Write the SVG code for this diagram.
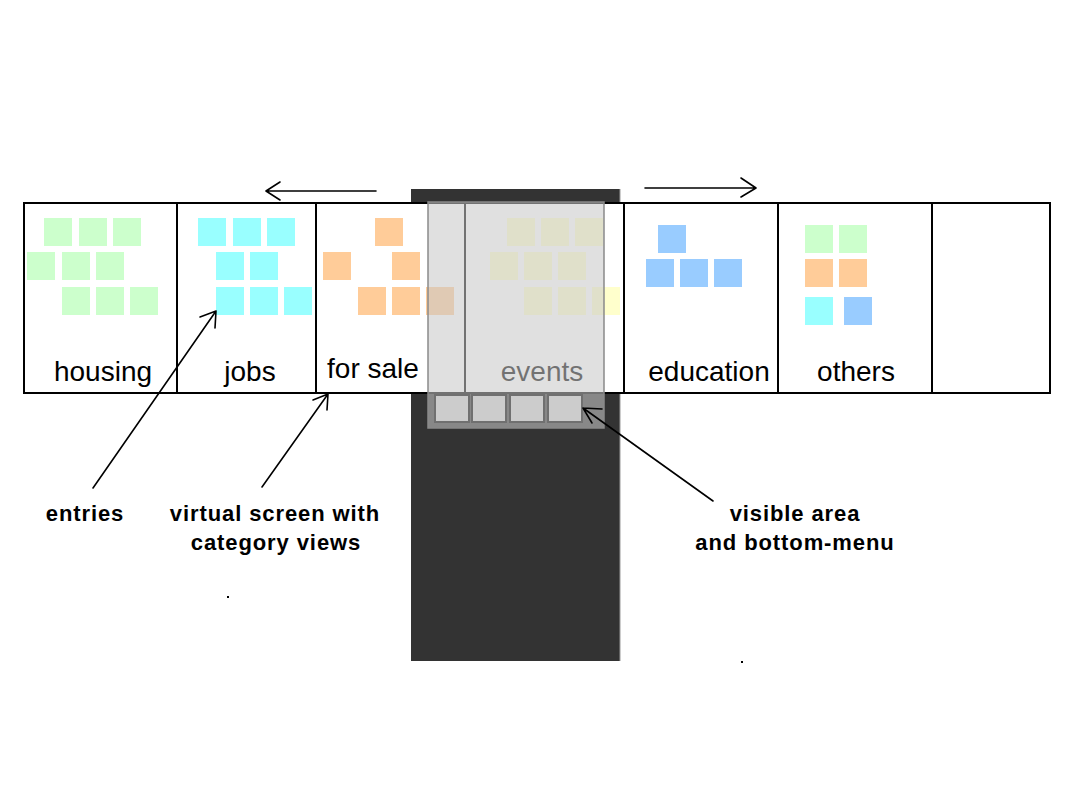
<svg xmlns="http://www.w3.org/2000/svg" width="1072" height="806" viewBox="0 0 1072 806">
  <style>
    .cat { font-family: "Liberation Sans", Arial, sans-serif; font-size: 28px; fill: #000; text-anchor: middle; }
    .note { font-family: "Liberation Sans", Arial, sans-serif; font-size: 22px; font-weight: bold; fill: #000; text-anchor: middle; letter-spacing: 0.9px; }
    .div { stroke: #000; stroke-width: 2; fill: none; }
    .g { fill: #ccffcc; }
    .c { fill: #99ffff; }
    .o { fill: #ffcc99; }
    .y { fill: #ffffcc; }
    .b { fill: #99ccff; }
    .conn { stroke: #000; stroke-width: 1.6; fill: none; stroke-linecap: round; stroke-linejoin: round; }
    .btn { fill: #cccccc; stroke: #707070; stroke-width: 2; }
  </style>
  <defs>
    <rect id="sq" width="28" height="28"/>
  </defs>
  <rect width="1072" height="806" fill="#ffffff"/>

  <g id="phone">
    <rect x="411" y="189" width="209" height="472" fill="#333333"/>
    <line x1="620" y1="189" x2="620" y2="661" stroke="#9a9a9a" stroke-width="1"/>
  </g>

  <g id="virtual-screen">
    <rect x="24" y="203" width="1026" height="190" fill="#ffffff" stroke="#000" stroke-width="2"/>
    <line class="div" x1="177" y1="203" x2="177" y2="393"/>
    <line class="div" x1="316" y1="203" x2="316" y2="393"/>
    <line class="div" x1="465" y1="203" x2="465" y2="393"/>
    <line class="div" x1="624" y1="203" x2="624" y2="393"/>
    <line class="div" x1="778" y1="203" x2="778" y2="393"/>
    <line class="div" x1="932" y1="203" x2="932" y2="393"/>
  </g>

  <g id="housing">
    <use href="#sq" class="g" x="44" y="218"/><use href="#sq" class="g" x="79" y="218"/><use href="#sq" class="g" x="113" y="218"/>
    <use href="#sq" class="g" x="27" y="252"/><use href="#sq" class="g" x="62" y="252"/><use href="#sq" class="g" x="96" y="252"/>
    <use href="#sq" class="g" x="62" y="287"/><use href="#sq" class="g" x="96" y="287"/><use href="#sq" class="g" x="130" y="287"/>
    <text class="cat" x="103" y="381">housing</text>
  </g>

  <g id="jobs">
    <use href="#sq" class="c" x="198" y="218"/><use href="#sq" class="c" x="233" y="218"/><use href="#sq" class="c" x="267" y="218"/>
    <use href="#sq" class="c" x="216" y="252"/><use href="#sq" class="c" x="250" y="252"/>
    <use href="#sq" class="c" x="216" y="287"/><use href="#sq" class="c" x="250" y="287"/><use href="#sq" class="c" x="284" y="287"/>
    <text class="cat" x="250" y="381">jobs</text>
  </g>

  <g id="for-sale">
    <use href="#sq" class="o" x="375" y="218"/>
    <use href="#sq" class="o" x="323" y="252"/><use href="#sq" class="o" x="392" y="252"/>
    <use href="#sq" class="o" x="358" y="287"/><use href="#sq" class="o" x="392" y="287"/><use href="#sq" class="o" x="426" y="287"/>
    <text class="cat" x="373" y="378">for sale</text>
  </g>

  <g id="events">
    <use href="#sq" class="y" x="507" y="218"/><use href="#sq" class="y" x="541" y="218"/><use href="#sq" class="y" x="575" y="218"/>
    <use href="#sq" class="y" x="490" y="252"/><use href="#sq" class="y" x="524" y="252"/><use href="#sq" class="y" x="558" y="252"/>
    <use href="#sq" class="y" x="524" y="287"/><use href="#sq" class="y" x="558" y="287"/><use href="#sq" class="y" x="592" y="287"/>
    <text class="cat" x="542" y="381">events</text>
  </g>

  <g id="education">
    <use href="#sq" class="b" x="658" y="225"/>
    <use href="#sq" class="b" x="646" y="259"/><use href="#sq" class="b" x="680" y="259"/><use href="#sq" class="b" x="714" y="259"/>
    <text class="cat" x="709" y="381">education</text>
  </g>

  <g id="others">
    <use href="#sq" class="g" x="805" y="225"/><use href="#sq" class="g" x="839" y="225"/>
    <use href="#sq" class="o" x="805" y="259"/><use href="#sq" class="o" x="839" y="259"/>
    <use href="#sq" class="c" x="805" y="297"/><use href="#sq" class="b" x="844" y="297"/>
    <text class="cat" x="856" y="381">others</text>
  </g>

  <g id="empty-view"></g>

  <g id="visible-area">
    <rect x="428" y="202" width="176" height="226" fill="#c8c8c8" fill-opacity="0.57" stroke="#8a8a8a" stroke-width="1.5"/>
  </g>

  <g id="bottom-menu">
    <rect class="btn" x="435" y="395" width="34" height="27"/>
    <rect class="btn" x="472" y="395" width="34" height="27"/>
    <rect class="btn" x="510" y="395" width="34" height="27"/>
    <rect class="btn" x="548" y="395" width="34" height="27"/>
  </g>

  <g id="connectors">
    <path class="conn" d="M376,191 L266,191 M280,182 L266,191 L280,200"/>
    <path class="conn" d="M645,188 L756,188 M741,178 L756,188 L741,197"/>
    <path class="conn" d="M93,488 L216,311 M200,317 L216,311 L215,328"/>
    <path class="conn" d="M262,487 L328,394 M313,400 L328,394 L327,410"/>
    <path class="conn" d="M713,501 L583,408 M602,409 L583,408 L592,423"/>
  </g>

  <g id="labels">
    <text class="note" x="85" y="521">entries</text>
    <text class="note" x="275" y="521">virtual screen with</text>
    <text class="note" x="276" y="550">category views</text>
    <text class="note" x="795" y="521">visible area</text>
    <text class="note" x="795" y="550">and bottom-menu</text>
  </g>

  <g id="specks" fill="#000">
    <rect x="227" y="596" width="2" height="2"/>
    <rect x="741" y="661" width="2" height="2"/>
  </g>
</svg>
